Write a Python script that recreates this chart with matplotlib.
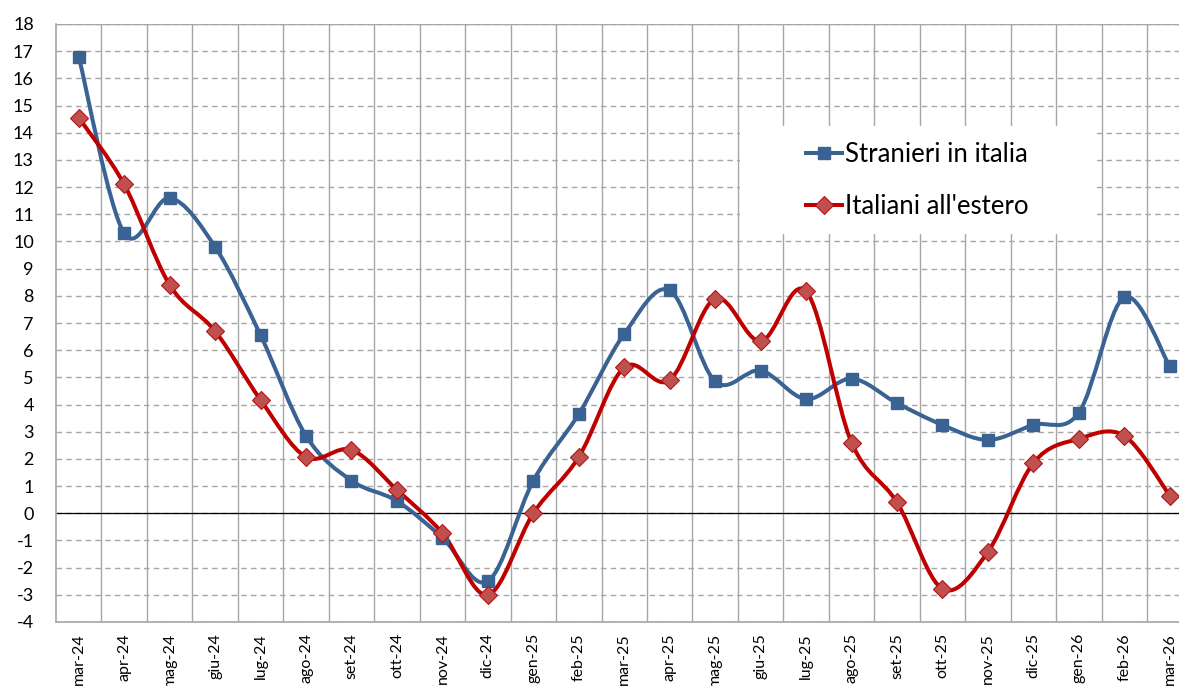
import numpy as np
import matplotlib
matplotlib.use("Agg")
import matplotlib.pyplot as plt
from matplotlib.path import Path
from matplotlib.patches import PathPatch, Rectangle
from matplotlib.lines import Line2D

plt.rcParams['font.family'] = ['Lato', 'DejaVu Sans']

months = ["mar-24", "apr-24", "mag-24", "giu-24", "lug-24", "ago-24", "set-24", "ott-24",
          "nov-24", "dic-24", "gen-25", "feb-25", "mar-25", "apr-25", "mag-25", "giu-25",
          "lug-25", "ago-25", "set-25", "ott-25", "nov-25", "dic-25", "gen-26", "feb-26", "mar-26"]

stranieri = [16.8, 10.3, 11.6, 9.8, 6.55, 2.85, 1.2, 0.45, -0.9, -2.5, 1.2, 3.65, 6.6, 8.2,
             4.85, 5.25, 4.2, 4.95, 4.05, 3.25, 2.7, 3.25, 3.7, 7.95, 5.4]
italiani = [14.55, 12.1, 8.4, 6.7, 4.17, 2.07, 2.33, 0.86, -0.73, -3.0, 0.0, 2.07, 5.37, 4.9,
            7.9, 6.33, 8.17, 2.6, 0.4, -2.78, -1.42, 1.85, 2.74, 2.85, 0.65]

y_ticks = list(range(-4, 19))

blue = "#3A6293"
red_line = "#C00000"
red_face = "#C0504D"
red_edge = "#B0161A"
grid_col = "#A6A6A6"

fig = plt.figure(figsize=(11.79, 6.86), dpi=100)
W, H = 1179, 686
left_px, right_px, top_px, bot_px = 56, 1192.5, 24, 622
ax = fig.add_axes([left_px / W, 1 - bot_px / H, (right_px - left_px) / W, (bot_px - top_px) / H])

n = len(months)
x = np.arange(n)
ax.set_xlim(-0.5, n - 0.5)
ax.set_ylim(-4, 18)


def smooth_path(xs, ys):
    pts = np.column_stack([xs, ys]).astype(float)
    verts = [pts[0]]
    codes = [Path.MOVETO]
    m = len(pts)
    for i in range(m - 1):
        p0 = pts[i - 1] if i > 0 else pts[i]
        p1 = pts[i]
        p2 = pts[i + 1]
        p3 = pts[i + 2] if i + 2 < m else pts[i + 1]
        c1 = p1 + (p2 - p0) / 6.0
        c2 = p2 - (p3 - p1) / 6.0
        verts += [c1, c2, p2]
        codes += [Path.CURVE4, Path.CURVE4, Path.CURVE4]
    return Path(verts, codes)


# grid
ax.set_yticks(y_ticks)
ax.set_xticks(x)
ax.set_xticks(np.arange(0.5, n - 0.5, 1.0), minor=True)
ax.yaxis.grid(True, which='major', color=grid_col, linestyle=(0, (4, 3)), linewidth=1.0)
ax.xaxis.grid(True, which='minor', color=grid_col, linestyle='-', linewidth=1.0)
ax.xaxis.grid(False, which='major')
ax.set_axisbelow(True)
ax.axhline(0, color='black', linewidth=0.9, zorder=1.5)
ax.axhline(18, color=grid_col, linewidth=1.0, zorder=0.6)

for s in ['top', 'right']:
    ax.spines[s].set_visible(False)
for s in ['left', 'bottom']:
    ax.spines[s].set_color(grid_col)
    ax.spines[s].set_linewidth(1.2)

ax.tick_params(axis='both', which='both', length=0)
ax.set_yticklabels([str(v) for v in y_ticks], fontsize=13)
ax.set_xticklabels(months, rotation=90, fontsize=11.5)
ax.tick_params(axis='y', pad=16)
ax.tick_params(axis='x', pad=8)

# lines
ax.add_patch(PathPatch(smooth_path(x, stranieri), facecolor='none', edgecolor=blue,
                       linewidth=2.9, zorder=3, capstyle='round', joinstyle='round'))
ax.plot(x, stranieri, linestyle='none', marker='s', markersize=9, color=blue,
        markeredgecolor=blue, zorder=4, clip_on=False)
ax.add_patch(PathPatch(smooth_path(x, italiani), facecolor='none', edgecolor=red_line,
                       linewidth=2.9, zorder=3, capstyle='round', joinstyle='round'))
ax.plot(x, italiani, linestyle='none', marker='D', markersize=8.8, color=red_face,
        markeredgecolor=red_edge, markeredgewidth=0.8, zorder=4, clip_on=False)

# legend background
rect = Rectangle((740 / W, 1 - 234 / H), (1097 - 740) / W, (234 - 126) / H,
                 transform=fig.transFigure, facecolor='white', edgecolor='none',
                 zorder=1, clip_on=False)
ax.add_patch(rect)

handles = [
    Line2D([], [], color=blue, linewidth=2.9, marker='s', markersize=9),
    Line2D([], [], color=red_line, linewidth=2.9, marker='D', markersize=8.8,
           markerfacecolor=red_face, markeredgecolor=red_edge, markeredgewidth=0.8),
]
leg = fig.legend(handles, ["Stranieri in italia", "Italiani all'estero"],
                 loc='upper left', bbox_to_anchor=(806 / W, 1 - 142 / H),
                 frameon=False, fontsize=18.5, handlelength=1.4, handletextpad=0.12,
                 labelspacing=1.05, borderaxespad=0, borderpad=0)

fig.savefig("out.png", dpi=100)
